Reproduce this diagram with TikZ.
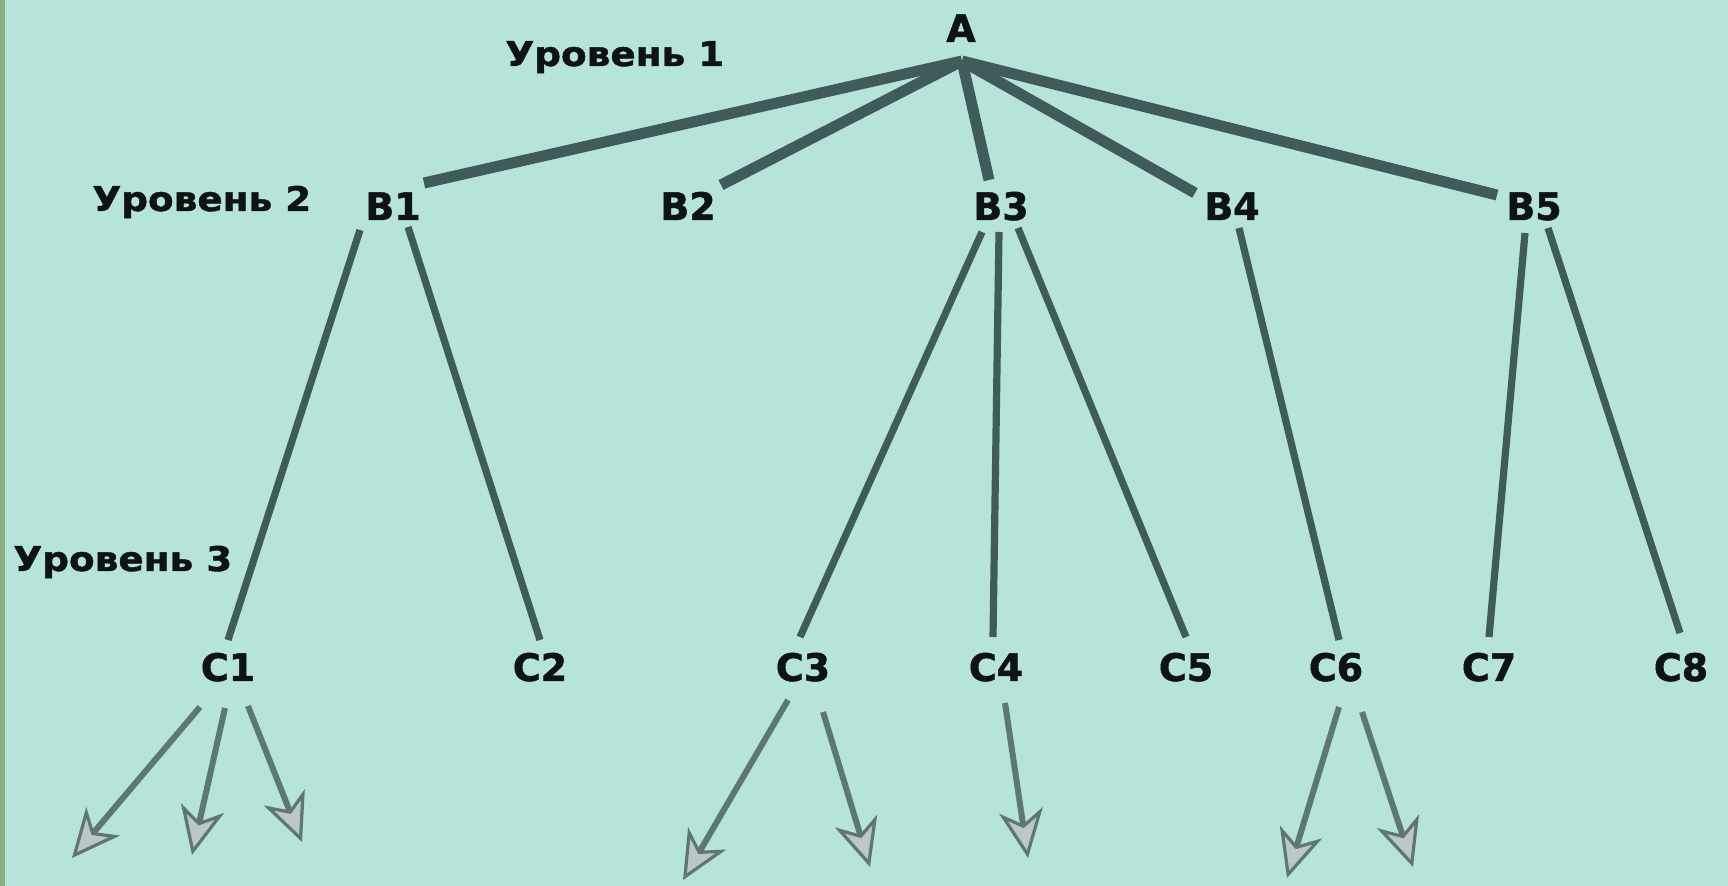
\documentclass[tikz,border=0pt]{standalone}
\usepackage{fontspec}
\setmainfont[BoldFeatures={FakeBold=1.3}]{DejaVu Sans}
\newfontfamily\levelfont[FakeStretch=1.1,BoldFeatures={FakeBold=1.3}]{DejaVu Sans}
\usetikzlibrary{arrows.meta,calc}
\definecolor{paper}{HTML}{B6E3DA}
\definecolor{rim}{HTML}{8FAE82}
\definecolor{ink}{HTML}{101313}
\definecolor{edge}{HTML}{405B59}
\definecolor{outletgray}{HTML}{5E7676}
\definecolor{headfill}{HTML}{BCC8C6}
\begin{document}
\begin{tikzpicture}[x=0.5pt,y=-0.5pt,
  lvl/.style={anchor=base west, inner sep=0pt, text=ink,
    font=\levelfont\bfseries\fontsize{17}{17}\selectfont},
  vertex/.style={anchor=base, inner sep=0pt, text=ink,
    font=\bfseries\fontsize{19}{19}\selectfont},
  trunk/.style={draw=edge, line width=5.5pt},
  branch/.style={draw=edge, line width=3.6pt},
  outlet/.style={draw=outletgray, line width=3pt,
    -{Stealth[length=24pt,width=22pt,inset=7pt,fill=headfill,line width=1.6pt]}}]

% background sheet with a narrow green rim on the left
\fill[paper] (0,0) rectangle (1728,886);
\fill[rim] (0,0) rectangle (5,886);
\useasboundingbox (0,0) rectangle (1728,886);

% level captions
\node[lvl] (L1) at (505,66) {Уровень 1};
\node[lvl] (L2) at (92,211) {Уровень 2};
\node[lvl] (L3) at (13,571) {Уровень 3};

% tree nodes
\node[vertex] (A) at (961,42) {A};
\node[vertex] (B1) at (393,220) {B1};
\node[vertex] (B2) at (688,220) {B2};
\node[vertex] (B3) at (1001,220) {B3};
\node[vertex] (B4) at (1232,220) {B4};
\node[vertex] (B5) at (1534,220) {B5};
\node[vertex] (C1) at (228,681) {C1};
\node[vertex] (C2) at (540,681) {C2};
\node[vertex] (C3) at (803,681) {C3};
\node[vertex] (C4) at (996,681) {C4};
\node[vertex] (C5) at (1186,681) {C5};
\node[vertex] (C6) at (1336,681) {C6};
\node[vertex] (C7) at (1489,681) {C7};
\node[vertex] (C8) at (1681,681) {C8};

% level 1 -> level 2
\draw[trunk] ($(A.base)+(1,19)$) -- ($(B1.base)+(31,-37)$);
\draw[trunk] ($(A.base)+(1,19)$) -- ($(B2.base)+(33,-35)$);
\draw[trunk] ($(A.base)+(1,19)$) -- ($(B3.base)+(-12,-40)$);
\draw[trunk] ($(A.base)+(1,19)$) -- ($(B4.base)+(-37,-27)$);
\draw[trunk] ($(A.base)+(1,19)$) -- ($(B5.base)+(-37,-25)$);

% level 2 -> level 3
\draw[branch] ($(B1.base)+(-33,10)$) -- ($(C1.base)+(0,-41)$);
\draw[branch] ($(B1.base)+(15,7)$) -- ($(C2.base)+(0,-41)$);
\draw[branch] ($(B3.base)+(-19,12)$) -- ($(C3.base)+(-3,-44)$);
\draw[branch] ($(B3.base)+(-2,12)$) -- ($(C4.base)+(-3,-44)$);
\draw[branch] ($(B3.base)+(17,8)$) -- ($(C5.base)+(0,-44)$);
\draw[branch] ($(B4.base)+(7,8)$) -- ($(C6.base)+(3,-41)$);
\draw[branch] ($(B5.base)+(-9,13)$) -- ($(C7.base)+(0,-44)$);
\draw[branch] ($(B5.base)+(14,8)$) -- ($(C8.base)+(-1,-48)$);

% open continuations below level 3
\coordinate (C1a) at (72,858);
\coordinate (C1b) at (192,855);
\coordinate (C1c) at (302,842);
\coordinate (C3a) at (683,880);
\coordinate (C3b) at (870,867);
\coordinate (C4a) at (1028,858);
\coordinate (C6a) at (1287,878);
\coordinate (C6b) at (1413,867);

\draw[outlet] ($(C1.base)+(-28,26)$) -- (C1a);
\draw[outlet] ($(C1.base)+(-3,27)$) -- (C1b);
\draw[outlet] ($(C1.base)+(20,25)$) -- (C1c);
\draw[outlet] ($(C3.base)+(-15,19)$) -- (C3a);
\draw[outlet] ($(C3.base)+(20,31)$) -- (C3b);
\draw[outlet] ($(C4.base)+(9,22)$) -- (C4a);
\draw[outlet] ($(C6.base)+(3,26)$) -- (C6a);
\draw[outlet] ($(C6.base)+(26,31)$) -- (C6b);
\end{tikzpicture}
\end{document}
